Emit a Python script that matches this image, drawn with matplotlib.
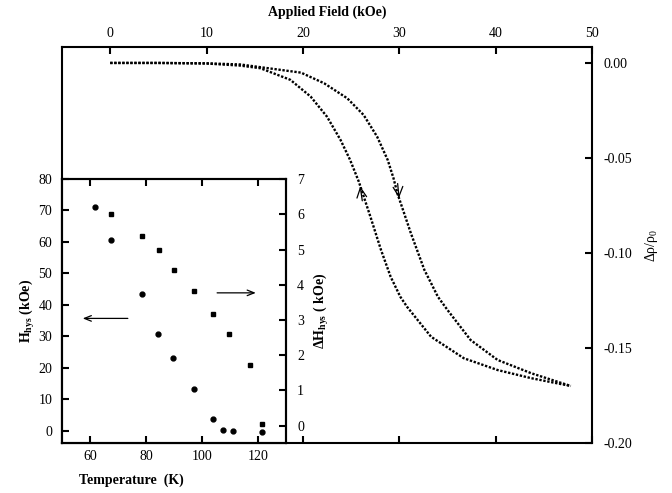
import matplotlib
matplotlib.use("Agg")
import matplotlib.pyplot as plt

plt.rcParams["font.family"] = ["Liberation Serif", "DejaVu Serif"]
plt.rcParams["font.size"] = 10
plt.rcParams["axes.unicode_minus"] = False
plt.rcParams["mathtext.fontset"] = "custom"
plt.rcParams["mathtext.rm"] = "Liberation Serif"
plt.rcParams["mathtext.it"] = "Liberation Serif:italic"
plt.rcParams["mathtext.bf"] = "Liberation Serif:bold"

# magnetoresistance loop, field sweeping up
field_up = [0, 5, 10, 13.5, 19.8, 22.2, 24.6, 26.3, 27.7, 28.8, 29.4, 29.8, 31.2,
            32.6, 33.3, 34.0, 35.0, 37.4, 40.2, 43.7, 47.8]
mr_up = [0.0, 0.0, -0.0002, -0.0008, -0.0051, -0.0107, -0.0186, -0.0274, -0.0388,
         -0.0511, -0.0607, -0.0686, -0.0896, -0.1089, -0.1159, -0.1230, -0.1300,
         -0.1458, -0.1563, -0.1633, -0.1700]

# field sweeping down
field_down = [0, 5, 10, 13.5, 15.6, 18.7, 20.8, 22.5, 23.9, 24.9, 25.8, 27.0, 28.1,
              29.1, 30.1, 30.8, 33.3, 36.7, 40.2, 43.7, 47.8]
mr_down = [0.0, 0.0, -0.0003, -0.0014, -0.0028, -0.0089, -0.0177, -0.0283, -0.0405,
           -0.0511, -0.0625, -0.0809, -0.0984, -0.1125, -0.1230, -0.1283, -0.1441,
           -0.1554, -0.1616, -0.1659, -0.1700]

# inset: hysteresis field and width vs temperature
temp_h = [61.7, 67.4, 78.5, 84.4, 89.8, 97.3, 103.8, 107.4, 111.1, 121.3]
h_hys = [71.0, 60.5, 43.3, 30.6, 23.2, 13.3, 3.6, 0.2, 0.0, -0.3]
temp_dh = [67.4, 78.5, 84.5, 89.9, 97.3, 104.0, 109.7, 117.1, 121.3]
dh_hys = [6.0, 5.38, 4.98, 4.42, 3.83, 3.17, 2.60, 1.73, 0.05]

fig = plt.figure(figsize=(6.72, 4.93), dpi=100)

ax = fig.add_axes([0.0923, 0.1014, 0.7887, 0.8033])
ax.plot(field_up, mr_up, color="black", lw=1.7, ls=(0, (1.0, 0.7)))
ax.plot(field_down, mr_down, color="black", lw=1.7, ls=(0, (1.0, 0.7)))
ax.annotate("", xy=(25.9, -0.0635), xytext=(26.2, -0.074),
            arrowprops=dict(arrowstyle="->,head_length=0.7,head_width=0.35", lw=0.9))
ax.annotate("", xy=(30.0, -0.0725), xytext=(29.8, -0.062),
            arrowprops=dict(arrowstyle="->,head_length=0.7,head_width=0.35", lw=0.9))

ax.set_xlim(-5, 50)
ax.set_ylim(-0.20, 0.0084)
ax.set_xticks([0, 10, 20, 30, 40, 50])
ax.set_yticks([0.0, -0.05, -0.10, -0.15, -0.20])
ax.set_yticklabels(["0.00", "-0.05", "-0.10", "-0.15", "-0.20"])
ax.tick_params(axis="x", direction="in", top=True, bottom=True, labeltop=True,
               labelbottom=False, length=5, width=1.5, pad=5)
ax.tick_params(axis="y", direction="in", left=False, right=True, labelleft=False,
               labelright=True, length=5, width=1.5, pad=8)
ax.xaxis.set_label_position("top")
ax.set_xlabel("Applied Field (kOe)", fontweight="bold", labelpad=8)
ax.yaxis.set_label_position("right")
ax.set_ylabel("Δρ/ρ$_0$", labelpad=8)
for s in ax.spines.values():
    s.set_linewidth(1.5)

# inset
ax2 = fig.add_axes([0.0923, 0.1014, 0.3333, 0.5355])
ax2.set_facecolor("white")
ax2.plot(temp_h, h_hys, "o", color="black", ms=3.5)
ax2.set_xlim(50, 130)
ax2.set_ylim(-3.9, 80)
ax2.set_xticks([60, 80, 100, 120])
ax2.set_yticks(range(0, 81, 10))
ax2.tick_params(direction="in", top=True, right=False, length=5, width=1.5)
ax2.tick_params(axis="y", pad=7)
ax2.tick_params(axis="x", pad=5)
ax2.set_ylabel(r"$\mathbf{H}_{\mathbf{hys}}$ (kOe)", fontweight="bold", labelpad=1)
ax2.set_xlabel("Temperature  (K)", fontweight="bold", labelpad=8)
ax2.xaxis.set_label_coords(0.31, -0.115)
ax2.annotate("", xy=(56.4, 35.7), xytext=(74.5, 35.7),
             arrowprops=dict(arrowstyle="->,head_length=0.5,head_width=0.2", lw=0.9))

ax3 = ax2.twinx()
ax3.plot(temp_dh, dh_hys, "s", color="black", ms=3.5)
ax3.set_ylim(-0.49, 7)
ax3.set_yticks(range(0, 8))
ax3.tick_params(direction="in", length=5, width=1.5, pad=8)
ax3.set_ylabel(r"$\mathbf{\Delta H}_{\mathbf{hys}}$ ( kOe)", fontweight="bold", labelpad=6)
ax3.annotate("", xy=(120.2, 3.77), xytext=(104.4, 3.77),
             arrowprops=dict(arrowstyle="->,head_length=0.5,head_width=0.2", lw=0.9))
for a in (ax2, ax3):
    for s in a.spines.values():
        s.set_linewidth(1.5)

fig.savefig("out.png", dpi=100)
